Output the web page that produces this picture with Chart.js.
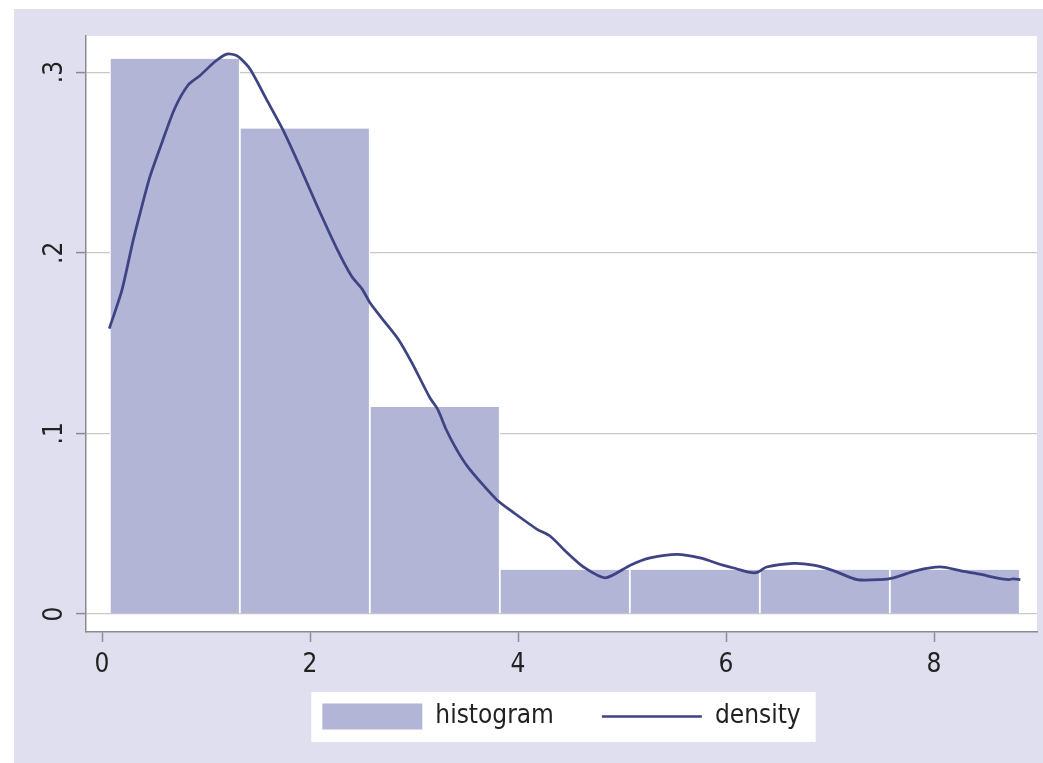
<!DOCTYPE html>
<html lang="en">
<head>
<meta charset="UTF-8">
<title>Histogram and density</title>
<script src="https://cdn.jsdelivr.net/npm/chart.js"></script>
<style>
    html, body { margin: 0; padding: 0; background: #ffffff; }
    .frame {
        position: absolute;
        left: 14px;
        top: 9px;
        width: 1029px;
        height: 754px;
        background: #e0dff0;
    }
    canvas { display: block; }
</style>
</head>
<body>
<div class="frame"><canvas id="chart" width="1029" height="754"></canvas></div>

<script>
// Histogram bins (centres of 7 equal bins) and their heights
const binCenters = [0.70, 1.95, 3.20, 4.45, 5.70, 6.95, 8.20];
const binHeights = [0.3074, 0.2688, 0.1146, 0.0244, 0.0244, 0.0244, 0.0244];

// Density curve
const densityX = [0.07, 0.19, 0.30, 0.38, 0.46, 0.57, 0.70, 0.83, 0.94, 1.09,
                  1.20, 1.30, 1.42, 1.58, 1.74, 1.90, 2.06, 2.26, 2.40, 2.50,
                  2.58, 2.70, 2.85, 2.98, 3.15, 3.23, 3.31, 3.41, 3.51, 3.67,
                  3.80, 3.96, 4.18, 4.31, 4.47, 4.63, 4.84, 5.08, 5.27, 5.53,
                  5.75, 5.97, 6.10, 6.23, 6.30, 6.39, 6.65, 6.84, 7.03, 7.26,
                  7.48, 7.61, 7.83, 8.06, 8.25, 8.44, 8.60, 8.72, 8.76, 8.83];
const densityY = [0.158, 0.179, 0.207, 0.225, 0.242, 0.260, 0.280, 0.293, 0.298, 0.306,
                  0.310, 0.309, 0.302, 0.285, 0.268, 0.248, 0.227, 0.202, 0.187, 0.180,
                  0.172, 0.163, 0.152, 0.139, 0.120, 0.113, 0.102, 0.091, 0.082, 0.071,
                  0.063, 0.056, 0.047, 0.043, 0.034, 0.026, 0.020, 0.027, 0.031, 0.033,
                  0.031, 0.027, 0.025, 0.023, 0.023, 0.026, 0.028, 0.027, 0.024, 0.019,
                  0.019, 0.020, 0.024, 0.026, 0.024, 0.022, 0.020, 0.019, 0.0194, 0.019];

// Axis ticks
const xTickValues = [0, 2, 4, 6, 8];
const xTickLabels = ['0', '2', '4', '6', '8'];
const yTickValues = [0, 0.1, 0.2, 0.3];
const yTickLabels = ['0', '.1', '.2', '.3'];
const xMin = -0.154, xMax = 8.99;
const yMin = -0.01, yMax = 0.32;

const FONT = '"Liberation Sans Narrow", "DejaVu Sans Condensed", "Liberation Sans", sans-serif';
const TICK_SIZE = 26;
const LEGEND_SIZE = 26;
const BAR_COLOR = '#b2b5d6';
const LINE_COLOR = '#3e4483';
const AXIS_COLOR = '#8c8c8c';
const TEXT_COLOR = '#222222';

// white plot region, white legend box, tick labels (Stata look)
const stataLook = {
    id: 'stataLook',
    beforeDraw(chart) {
        const { ctx, chartArea: a } = chart;
        ctx.save();
        ctx.fillStyle = '#ffffff';
        ctx.fillRect(a.left, a.top, a.right - a.left, a.bottom - a.top);
        const boxes = chart.legend && chart.legend.legendHitBoxes;
        if (boxes && boxes.length) {
            const first = boxes[0];
            const last = boxes[boxes.length - 1];
            const centerY = first.top + LEGEND_SIZE / 2;
            const left = first.left - 11;
            const right = last.left + last.width + 15;
            ctx.fillRect(left, centerY - 24.5, right - left, 50);
        }
        ctx.restore();
    },
    afterDraw(chart) {
        const { ctx, chartArea: a } = chart;
        const x = chart.scales.x;
        const y = chart.scales.y;
        ctx.save();
        ctx.font = TICK_SIZE + 'px ' + FONT;
        ctx.fillStyle = TEXT_COLOR;
        ctx.textAlign = 'center';
        ctx.textBaseline = 'alphabetic';
        yTickValues.forEach((v, i) => {
            ctx.save();
            ctx.translate(a.left - 24, y.getPixelForValue(v));
            ctx.rotate(-Math.PI / 2);
            ctx.fillText(yTickLabels[i], 0, 0);
            ctx.restore();
        });
        xTickValues.forEach((v, i) => {
            ctx.fillText(xTickLabels[i], x.getPixelForValue(v), a.bottom + 40);
        });
        ctx.restore();
    }
};

const ctx = document.getElementById('chart').getContext('2d');
const chart = new Chart(ctx, {
    type: 'bar',
    data: {
        datasets: [{
            type: 'bar',
            label: 'histogram',
            data: binCenters.map((x, i) => ({ x: x, y: binHeights[i] })),
            backgroundColor: BAR_COLOR,
            borderColor: '#ffffff',
            borderWidth: { left: 1.25, right: 1.25, top: 0, bottom: 0 },
            borderSkipped: false,
            barPercentage: 1,
            categoryPercentage: 1,
            order: 2
        }, {
            type: 'line',
            label: 'density',
            data: densityX.map((x, i) => ({ x: x, y: densityY[i] })),
            borderColor: LINE_COLOR,
            borderWidth: 2.75,
            pointRadius: 0,
            tension: 0.25,
            fill: false,
            order: 1
        }]
    },
    options: {
        responsive: false,
        animation: false,
        layout: { padding: { left: 0, right: 6, top: 27, bottom: 23.5 } },
        scales: {
            x: {
                type: 'linear',
                min: xMin,
                max: xMax,
                offset: false,
                afterFit(s) { s.height = 23.5; },
                border: { color: AXIS_COLOR, width: 1.5 },
                grid: {
                    offset: false,
                    drawOnChartArea: false,
                    drawTicks: true,
                    tickLength: 10,
                    tickColor: AXIS_COLOR,
                    tickWidth: 1.5
                },
                afterBuildTicks(s) { s.ticks = xTickValues.map(v => ({ value: v })); },
                ticks: { display: false }
            },
            y: {
                min: yMin,
                max: yMax,
                afterFit(s) { s.width = 72; },
                border: { color: AXIS_COLOR, width: 1.5 },
                grid: {
                    color: '#c8c8c8',
                    lineWidth: 1.2,
                    drawTicks: true,
                    tickLength: 10,
                    tickColor: AXIS_COLOR,
                    tickWidth: 1.5
                },
                afterBuildTicks(s) { s.ticks = yTickValues.map(v => ({ value: v })); },
                ticks: { display: false }
            }
        },
        plugins: {
            tooltip: { enabled: false },
            legend: {
                position: 'bottom',
                fullSize: false,
                align: 'center',
                labels: {
                    usePointStyle: true,
                    pointStyleWidth: 100,
                    boxHeight: 27,
                    padding: 48,
                    color: TEXT_COLOR,
                    font: { family: FONT, size: LEGEND_SIZE },
                    generateLabels(c) {
                        return c.data.datasets.map((ds, i) => ({
                            text: ds.label,
                            fillStyle: i === 0 ? ds.backgroundColor : ds.borderColor,
                            strokeStyle: i === 0 ? ds.backgroundColor : ds.borderColor,
                            lineWidth: i === 0 ? 0 : 2.5,
                            pointStyle: i === 0 ? 'rect' : 'line',
                            fontColor: TEXT_COLOR,
                            hidden: false,
                            datasetIndex: i
                        }));
                    }
                }
            }
        }
    },
    plugins: [stataLook]
});
</script>
</body>
</html>
